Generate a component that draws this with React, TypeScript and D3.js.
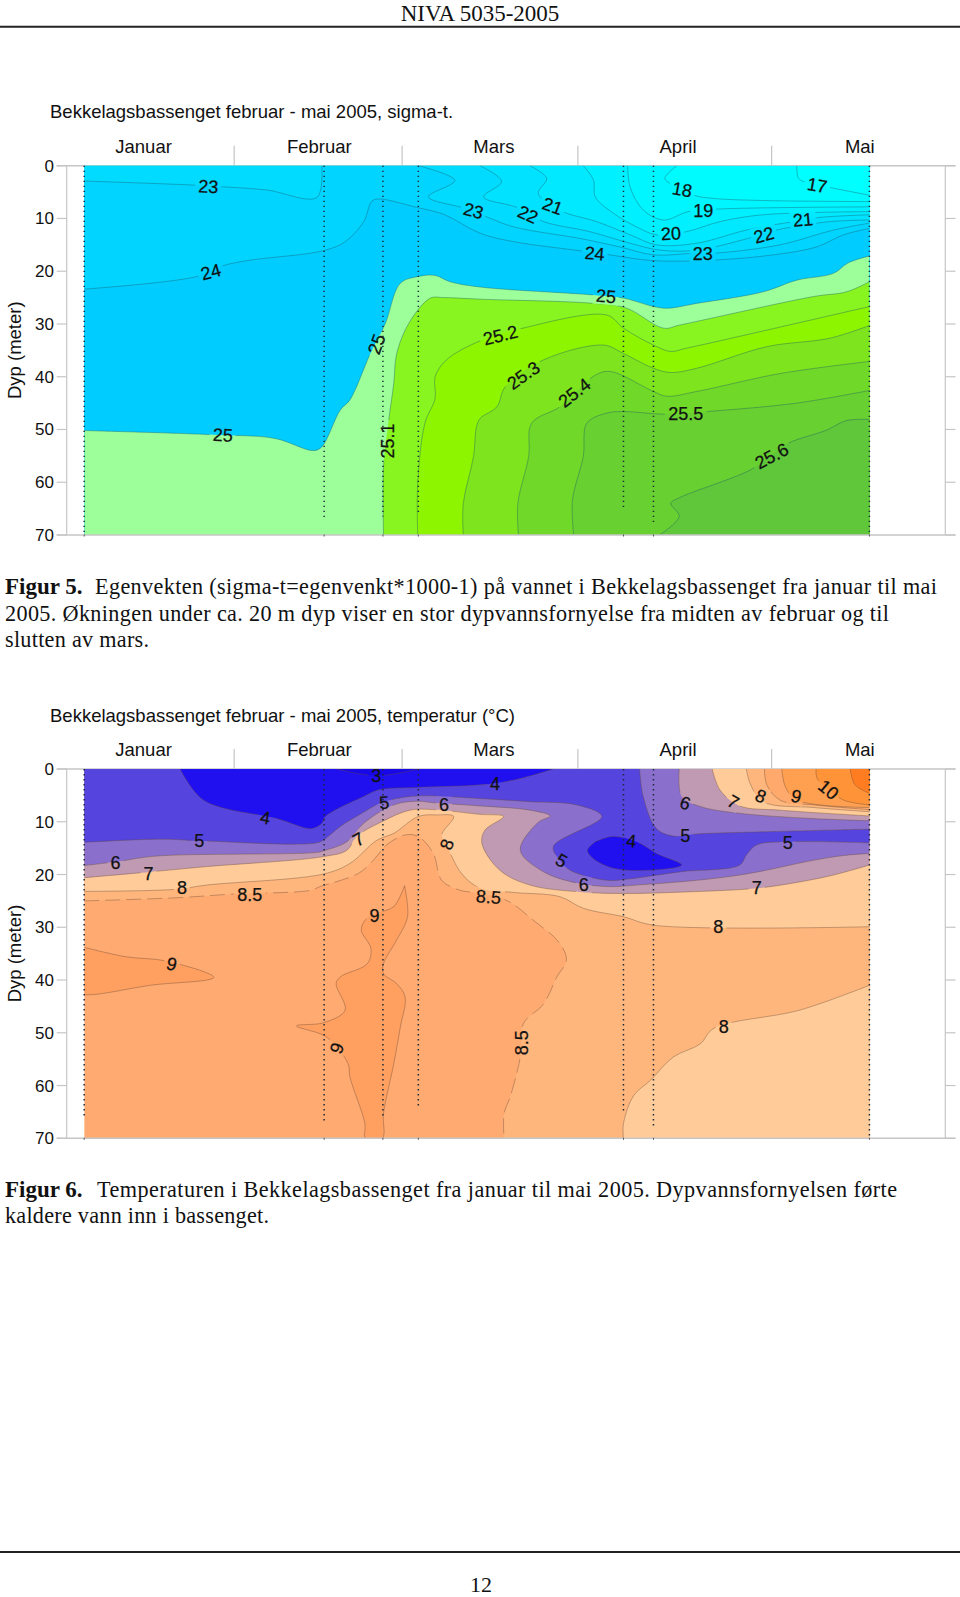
import React from "react";
import * as d3 from "d3";

type Pt = number[];
type Layer = { color: string; pieces: Pt[][]; closure: Pt[]; dashed?: boolean };

// x = days from first station, y = depth in metres
const months = ["Januar", "Februar", "Mars", "April", "Mai"];
const monthLabelDays = [9.9, 39.2, 68.3, 99, 129.3];
const monthTickDays = [25, 53, 82.3, 114.6];
const depthTicks = [0, 10, 20, 30, 40, 50, 60, 70];
const stationDays = [0, 40, 49.8, 55.7, 89.9, 94.9, 130.9];
const stationBottomSigma = [70, 67.2, 66.5, 65.9, 65.3, 68.1, 70];
const stationBottomTemp = [66, 67.1, 66, 64.1, 65.3, 68.2, 70];

const sig17 = [[118.8,0],[119.1,2.4],[120.7,3.3],[124.6,4.2],[130.9,5.6]];
const sig18 = [[98.8,0],[96.8,2.4],[98.2,3.7],[101.6,5.6],[104.9,6.2],[113.2,6.6],[130.9,6.8]];
const sig19 = [[90.6,0],[91,4],[93.2,8.4],[96.6,10.3],[100.7,8.7],[106,8.2],[130.9,7.8]];
const sig20 = [[83.2,0],[84.9,2.7],[85.2,5.9],[88.2,9],[92.1,11.6],[95.4,13.1],[100.4,12.5],[106,10.6],[113.2,9.3],[130.9,8.7]];
const sig21 = [[74.3,0],[77.1,2.4],[75.7,5.2],[77.9,7.6],[80.4,9],[85.4,10.6],[91,13.1],[95.4,15],[102.1,14.7],[110.4,12.2],[118.2,10.6],[122.7,9.8],[130.9,9.3]];
const sig22 = [[66,0],[69.6,3],[66.6,5.9],[72.1,7.9],[76.6,10.6],[84.3,12.5],[91,14.7],[96,16],[102.1,16],[111.6,13.5],[115.4,12.2],[124.3,10.6],[130.9,10.3]];
const sig23a = [[0,2.9],[18.8,3.7],[23.2,4],[30.4,4.6],[38.8,6],[39.6,0]];
const sig23b = [[55.7,0],[61.8,2.8],[57.4,5.9],[63.5,8.1],[67.1,9.7],[71.6,11.6],[82.7,13.8],[89.3,15.4],[94.9,16.9],[101.6,16.6],[104.9,16.6],[116,15],[124.9,12.2],[130.9,10.9]];
const sig24 = [[0,23.4],[18.8,21],[22.7,19.1],[27.1,18],[39.9,16.1],[43.5,14.4],[46.6,10.6],[47.9,6.8],[49,6.3],[55.4,7.9],[59.9,9.2],[66,12.8],[71.6,14.4],[83.2,16.2],[87.6,16.9],[94.9,18],[104.9,17.9],[114.9,16.9],[122.1,15.4],[126.6,13.1],[130.9,11.9]];
const sig25 = [[0,50.2],[21.6,51],[31.8,51.7],[38.2,54],[39.6,53.3],[42.7,46.3],[44.3,44.4],[47.7,35.6],[50.2,29.9],[52.7,22.3],[55.7,21],[58.5,20.8],[61,22],[66,23],[84.9,24.5],[89.9,25.1],[96.6,27],[102.1,26.1],[113.2,23.9],[118.8,21.7],[124.9,20.4],[127.4,18.4],[130.9,17.1]];
const sig251 = [[49.9,70],[49.9,57],[50.7,48.8],[51.6,41.3],[52.1,35.6],[54.1,29.9],[57.7,25.1],[59.9,25],[66,25.3],[84.9,26.1],[90.4,27],[96.6,30.8],[99.3,30.2],[121.6,24.8],[127.1,23.9],[130.9,22]];
const sig252 = [[55.6,70],[55.6,60.2],[56.8,48.8],[58.5,44.1],[58.5,40],[60.4,36.8],[66,33.2],[72.4,31],[87.1,28.3],[89.9,30.8],[94.9,34],[97.7,35.2],[100.4,34.6],[130.9,26.7]];
const sig253 = [[63.2,70],[63.2,64],[64.9,55.1],[65.4,49.5],[66,47.9],[68.8,45.7],[70.2,41.9],[76.6,36.8],[86.6,34],[89.9,35.6],[94.9,38.4],[97.7,39.2],[102.1,38.4],[113.8,34.3],[124.3,32.7],[130.9,30.3]];
const sig254 = [[72.4,70],[72.3,64],[74.1,55.1],[74.6,48.8],[79.3,45.7],[85.2,39.7],[87.7,39],[94.9,42.8],[97.1,43.7],[102.1,42.8],[116,39.4],[130.9,37.1]];
const sig255 = [[81.6,70],[81.4,63.4],[83.2,55.1],[83.8,48.8],[87.1,46.9],[89.9,46.6],[96.8,47.1],[103.8,46.6],[118.8,45],[130.9,42.6]];
const sig256 = [[95.9,70],[99.2,66.5],[97.8,64],[99.3,62.9],[111,57.7],[114.3,55.1],[117.4,52.6],[123.8,50.1],[127.1,48.3],[130.9,48.1]];

const tWedge9 = [[0,33.8],[7,35.6],[13.7,36.4],[21.6,39.5],[11,41],[2.1,42.7],[0,42.8]];
const tPlume9 = [[53.4,22.1],[53.9,28],[52.1,32.4],[49.9,36.9],[49.9,38.8],[52.1,40.7],[53.5,43.2],[52.7,48.9],[51.6,55.9],[49.9,65.3],[49.7,70],[46.9,70],[46.8,67.2],[44.3,58.4],[44,55.9],[40.4,50.8],[35.4,48.7],[39.9,48.1],[43.5,45.7],[42,40.7],[42.7,39.4],[47.2,36.9],[47.8,34],[46.2,30.6],[46.8,28.7],[48.6,27.4],[51.6,26.1],[53.4,22.1]];
const t85 = [[0,25],[15.4,24.4],[24.9,23.7],[37.7,23],[39.3,22.3],[45.7,19.8],[48.2,17.3],[50.4,14.4],[53.5,12.5],[55.7,12.8],[58.2,16],[59.6,21.1],[62.7,23],[64.9,23.4],[70.4,24.9],[74.9,28.7],[79.1,32.8],[80.4,36.2],[78.8,39.4],[76.6,44.5],[73.2,48.3],[72.7,54.6],[71,62.2],[70,65.3],[70,70]];
const t8main = [[0,23.2],[15.4,22.8],[20.4,22],[39.9,19.9],[44.3,17.9],[48.8,13.5],[51.6,12.2],[55.7,9],[58.8,8.7],[61.6,9],[59.6,12.5],[60.4,14.4],[62.9,19.8],[66,22.6],[71.6,23.4],[79.3,24.2],[83.2,26.4],[89.9,28],[94.9,29.6],[130.9,29.9]];
const t8bottom = [[89.9,70],[89.9,67.2],[91.6,61.9],[94.4,59],[98.2,54.6],[102.7,52.1],[104.9,49.2],[119.3,45.7],[130.9,41]];
const t7lower = [[0,20.6],[11,19.5],[20.4,18.5],[39.9,16.6],[43.8,15.4],[45.4,12.8],[49.6,10],[54.3,7.8],[58.2,7.7],[66,8.6],[69.9,9],[66.8,11.6],[66.3,14.1],[69.3,19.2],[74.3,22],[82.7,23.3],[89.9,23.6],[100.4,23.3],[112.1,22.6],[119.3,21.4],[124.9,20.1],[130.9,18.2]];
const t7upper = [[130.9,8.9],[116,7.8],[109.3,7],[106,4],[104.7,0]];
const t6lower = [[0,18.3],[5.2,17.6],[12.1,16.5],[38.8,15.8],[40.2,15.4],[43.8,13.8],[46.6,10.3],[51.6,6.8],[55.7,6.1],[58.2,6.4],[66,7],[74.3,7.8],[77.7,8.9],[75.7,10.1],[72.7,15.4],[76.6,19.5],[82.1,21.6],[87.7,22.3],[92.1,22],[102.1,21.1],[110.4,19.9],[121.6,17.3],[126.6,16.4],[130.9,16]];
const t6upper = [[130.9,9.8],[121.6,9.4],[109.3,8.4],[102.7,7.1],[99.6,5.2],[99.2,0]];
const t5lower = [[0,13.9],[12.7,13.3],[19.3,13.6],[38.8,14],[40.2,13.2],[42.7,10.9],[46.3,8.4],[49.3,6.5],[52.1,5.6],[55.7,5.1],[66,5.6],[74.3,6.2],[82.1,6.8],[86.3,9],[78.2,14.7],[79.3,17.3],[81,19.2],[87.1,21.1],[90.4,20.9],[99.3,19.5],[109.3,18.2],[110.4,16.3],[112.1,14.4],[116.9,13.8],[130.9,14]];
const t5upper = [[130.9,11.4],[113.2,11.9],[102.1,12.3],[98.2,12.7],[95.4,11.3],[93.2,5.2],[92.6,0]];
const t4top = [[16,0],[19.9,5.9],[32.1,9.4],[37.9,11.3],[39.6,10.3],[40.2,9],[46.6,5.2],[49.3,3.9],[55.4,3.5],[66,3],[71.6,2.1],[78.2,0]];
const t4lens = [[85.2,13.8],[88,12.8],[92.1,13.8],[95.4,16],[99.6,18.2],[93.8,19.2],[88.2,18.8],[84.9,17],[83.9,15.4],[85.2,13.8]];
const t3lens = [[42.1,0],[48.8,1.3],[55.7,0]];
const t8upper = [[110.4,0],[111,2.7],[113.2,6.2],[121.6,7.3],[130.9,8.1]];
const t85upper = [[113.4,0],[113.8,3],[116,5.9],[121.6,6.8],[130.9,7.7]];
const t9upper = [[116.3,0],[116.9,3.4],[118.8,5.9],[130.9,7.3]];
const t10upper = [[122,0],[122.2,1.8],[124.3,4],[126.6,5.9],[130.9,6.8]];
const t11upper = [[127.7,0],[128.5,3],[130.9,4.6]];

const sigmaLabels: [string, number, number, number][] = [
  ["23",20.7,3.9,3],["24",21.1,20.1,-15],["25",23.1,51,3],["25",48.7,33.8,-70],["25.1",50.6,52.2,-90],
  ["23",64.9,8.5,15],["22",74,9.2,25],["21",78.1,7.6,20],["24",85.1,16.6,5],["25",87,24.7,5],
  ["18",99.7,4.5,10],["19",103.2,8.5,0],["20",97.8,12.8,-3],["23",103.1,16.7,0],["22",113.3,13.1,-15],
  ["21",119.8,10.2,-5],["17",122.2,3.7,10],["25.2",69.4,32.1,-14],["25.3",73.2,39.7,-35],["25.4",81.7,43,-38],
  ["25.5",100.3,46.9,0],["25.6",114.6,55,-28],
];
const tempLabels: [string, number, number, number][] = [
  ["3",48.7,1.3,0],["4",30.2,9.2,10],["5",19.2,13.6,0],["6",5.2,17.8,0],["7",10.7,19.8,0],["8",16.3,22.5,0],
  ["8.5",27.6,23.7,0],["9",14.6,36.9,15],["5",50,6.3,-5],["6",60,6.7,0],["7",45.7,13.3,-30],["8",60.4,14.3,-70],
  ["9",48.4,27.7,0],["9",42.1,52.9,-70],["8.5",67.4,24.2,5],["4",68.5,2.8,0],["5",79.6,17.3,30],["6",83.3,21.9,0],
  ["4",91.2,13.6,5],["5",100.2,12.7,0],["6",100.2,6.4,18],["7",108.2,6.2,30],["8",112.8,5.1,22],["9",118.7,5.1,15],
  ["10",124.1,3.9,40],["5",117.3,13.9,0],["7",112.1,22.5,0],["8",105.7,29.9,0],["8",106.6,48.8,0],["8.5",72.9,51.9,-90],
];

const X0 = 0, X1 = 131, Y1 = 70;
const belowAll = [[X1,Y1],[X0,Y1],[X0,0]];
const belowEdge = [[X1,Y1],[X0,Y1]];
const bottomRight = [[X1,Y1]];
const aboveRight = [[X1,Y1],[X1,0],[X0,0]];
const aboveAll = [[X1,0],[X0,0]];
const topLeft = [[X0,0]];
const topRight = [[X1,0]];
const none: Pt[] = [];

const sigmaLayers: Layer[] = [
  { color: "#00FBFF", pieces: [sig17], closure: belowAll },
  { color: "#00F6FF", pieces: [sig18], closure: belowAll },
  { color: "#00F0FF", pieces: [sig19], closure: belowAll },
  { color: "#00E9FF", pieces: [sig20], closure: belowAll },
  { color: "#00E2FF", pieces: [sig21], closure: belowAll },
  { color: "#00DBFF", pieces: [sig22], closure: belowAll },
  { color: "#00D4FF", pieces: [sig23a, sig23b], closure: belowEdge },
  { color: "#00CCFF", pieces: [sig24], closure: belowEdge },
  { color: "#9CFF99", pieces: [sig25], closure: belowEdge },
  { color: "#88F520", pieces: [sig251], closure: bottomRight },
  { color: "#8DF500", pieces: [sig252], closure: bottomRight },
  { color: "#7DE41E", pieces: [sig253], closure: bottomRight },
  { color: "#70D828", pieces: [sig254], closure: bottomRight },
  { color: "#68D030", pieces: [sig255], closure: bottomRight },
  { color: "#60C63A", pieces: [sig256], closure: bottomRight },
];
const tempLayers: Layer[] = [
  { color: "#FFA060", pieces: [tWedge9], closure: none },
  { color: "#FFA060", pieces: [tPlume9], closure: none },
  { color: "#FFB67C", pieces: [t85], closure: aboveRight, dashed: true },
  { color: "#FFCC99", pieces: [t8main], closure: aboveAll },
  { color: "#FFCC99", pieces: [t8bottom], closure: bottomRight },
  { color: "#C09AB2", pieces: [t7lower, t7upper], closure: topLeft },
  { color: "#8A70CC", pieces: [t6lower, t6upper], closure: topLeft },
  { color: "#5544DD", pieces: [t5lower, t5upper], closure: topLeft },
  { color: "#2010F0", pieces: [t4top], closure: none },
  { color: "#2010F0", pieces: [t4lens], closure: none },
  { color: "#1808E8", pieces: [t3lens], closure: none },
  { color: "#FFB67C", pieces: [t8upper], closure: topRight },
  { color: "#FFAA6C", pieces: [t85upper], closure: topRight },
  { color: "#FFA050", pieces: [t9upper], closure: topRight },
  { color: "#FF9338", pieces: [t10upper], closure: topRight },
  { color: "#FF7D20", pieces: [t11upper], closure: topRight },
];

const SANS = "'Liberation Sans', Arial, sans-serif";
const SERIF = "'Liberation Serif', 'Times New Roman', serif";
const xScale = d3.scaleLinear().domain([X0, X1]).range([84.2, 870]);

function Panel({ id, top, base, title, layers, labels, bottoms, stroke, titleY }: any) {
  const yScale = d3.scaleLinear().domain([0, Y1]).range([top, top + 369.3]);
  const curve = d3.line<Pt>().x(d => xScale(d[0])).y(d => yScale(d[1])).curve(d3.curveCatmullRom.alpha(0.5));
  const straight = d3.line<Pt>().x(d => xScale(d[0])).y(d => yScale(d[1]));
  const axisX0 = 56.7, axisX = 66.7, rightX = 945.3, rightEnd = 955.5;
  const grey = "#c6c6c6";
  const plotW = xScale(X1) - xScale(X0);
  const fillPath = (l: Layer) => {
    let p = l.pieces.map((s, i) => { const c = curve(s)!; return i ? "L" + c.slice(1) : c; }).join("");
    if (l.closure.length) p += "L" + straight(l.closure)!.slice(1);
    return p + "Z";
  };
  return (
    <g>
      <defs>
        <clipPath id={id + "c"}>
          <rect x={xScale(X0)} y={yScale(0)} width={plotW} height={yScale(Y1) - yScale(0)} />
        </clipPath>
        <mask id={id + "m"} maskUnits="userSpaceOnUse" x="0" y="0" width="960" height="1597">
          <rect x="0" y="0" width="960" height="1597" fill="#fff" />
          {labels.map((l: any, i: number) => {
            const w = l[0].length * 10 - (l[0].includes(".") ? 4 : 0) + 6;
            return <rect key={i} x={-w / 2} y={-9} width={w} height={18} fill="#000"
              transform={`translate(${xScale(l[1])},${yScale(l[2])}) rotate(${l[3]})`} />;
          })}
        </mask>
      </defs>
      <text x={50} y={titleY} fontFamily={SANS} fontSize={18.5} fill="#111">{title}</text>
      {months.map((m, i) => (
        <text key={m} x={xScale(monthLabelDays[i])} y={top - 13.2} textAnchor="middle" fontFamily={SANS} fontSize={18.5} fill="#111">{m}</text>
      ))}
      {monthTickDays.map((d, i) => (
        <line key={i} x1={xScale(d)} x2={xScale(d)} y1={top - 20} y2={top} stroke={grey} strokeWidth={1.2} />
      ))}
      <line x1={axisX} x2={axisX} y1={yScale(0)} y2={yScale(Y1)} stroke={grey} strokeWidth={1.2} />
      <line x1={rightX} x2={rightX} y1={yScale(0)} y2={yScale(Y1)} stroke={grey} strokeWidth={1.2} />
      <line x1={axisX0} x2={rightEnd} y1={yScale(0)} y2={yScale(0)} stroke={grey} strokeWidth={1.4} />
      {depthTicks.map(t => (
        <g key={t}>
          <line x1={axisX0} x2={axisX} y1={yScale(t)} y2={yScale(t)} stroke={grey} strokeWidth={1.2} />
          <line x1={rightX} x2={rightEnd} y1={yScale(t)} y2={yScale(t)} stroke={grey} strokeWidth={1.2} />
          <text x={54} y={yScale(t) + 6} textAnchor="end" fontFamily={SANS} fontSize={17} fill="#111">{t}</text>
        </g>
      ))}
      <text transform={`translate(21,${top + 184.5}) rotate(-90)`} textAnchor="middle" fontFamily={SANS} fontSize={18.5} fill="#111">Dyp (meter)</text>
      <g clipPath={`url(#${id}c)`}>
        <rect x={xScale(X0)} y={yScale(0)} width={plotW} height={yScale(Y1) - yScale(0)} fill={base} />
        {layers.map((l: Layer, i: number) => <path key={i} d={fillPath(l)} fill={l.color} />)}
        <g mask={`url(#${id}m)`}>
          {layers.flatMap((l: Layer, i: number) => l.pieces.map((s, j) => (
            <path key={i + "-" + j} d={curve(s)!} fill="none" stroke={stroke} strokeWidth={0.5} strokeOpacity={0.8}
              strokeDasharray={l.dashed ? "15 6" : undefined} />
          )))}
        </g>
      </g>
      <line x1={axisX0} x2={rightEnd} y1={yScale(Y1)} y2={yScale(Y1)} stroke={grey} strokeWidth={1.4} />
      {stationDays.map((d, i) => (
        <g key={i}>
          <line x1={xScale(d)} x2={xScale(d)} y1={yScale(0)} y2={yScale(bottoms[i])} stroke="#1c2a3a" strokeWidth={1.5} strokeDasharray="1.4 3.6" />
          <line x1={xScale(d)} x2={xScale(d)} y1={yScale(Y1) - 0.5} y2={yScale(Y1) + 1.5} stroke="#555" strokeWidth={1} />
        </g>
      ))}
      {labels.map((l: any, i: number) => (
        <text key={i} transform={`translate(${xScale(l[1])},${yScale(l[2])}) rotate(${l[3]})`} textAnchor="middle" dy="0.36em"
          fontFamily={SANS} fontSize={18} fill="#111" stroke="#111" strokeWidth={0.25}>{l[0]}</text>
      ))}
    </g>
  );
}

export default function App() {
  const serif = { fontFamily: SERIF, fontSize: 22.2, fill: "#111" } as const;
  return (
    <svg width={960} height={1597} style={{ position: "absolute", left: 0, top: 0, display: "block" }} xmlns="http://www.w3.org/2000/svg">
      <rect width={960} height={1597} fill="#fff" />
      <text x={480} y={20.6} textAnchor="middle" fontFamily={SERIF} fontSize={23} fill="#111">NIVA 5035-2005</text>
      <line x1={0} x2={960} y1={26.7} y2={26.7} stroke="#222" strokeWidth={2} />
      <Panel id="s" top={165.7} base="#00FFFF" titleY={118.3} title="Bekkelagsbassenget februar - mai 2005, sigma-t."
        layers={sigmaLayers} labels={sigmaLabels} bottoms={stationBottomSigma} stroke="#1f5a66" />
      <text x={5} y={594.3} {...serif} fontSize={23} fontWeight="bold">Figur 5.</text>
      <text x={95} y={594.3} {...serif} textLength={842} lengthAdjust="spacing">Egenvekten (sigma-t=egenvenkt*1000-1) på vannet i Bekkelagsbassenget fra januar til mai</text>
      <text x={5} y={621} {...serif} textLength={884} lengthAdjust="spacing">2005. Økningen under ca. 20 m dyp viser en stor dypvannsfornyelse fra midten av februar og til</text>
      <text x={5} y={646.7} {...serif} textLength={144} lengthAdjust="spacing">slutten av mars.</text>
      <Panel id="t" top={769} base="#FFAA70" titleY={721.7} title="Bekkelagsbassenget februar - mai 2005, temperatur (°C)"
        layers={tempLayers} labels={tempLabels} bottoms={stationBottomTemp} stroke="#6a4a3a" />
      <text x={5} y={1196.7} {...serif} fontSize={23} fontWeight="bold">Figur 6.</text>
      <text x={97} y={1196.7} {...serif} textLength={800} lengthAdjust="spacing">Temperaturen i Bekkelagsbassenget fra januar til mai 2005.  Dypvannsfornyelsen førte</text>
      <text x={5} y={1222.7} {...serif} textLength={264} lengthAdjust="spacing">kaldere vann inn i bassenget.</text>
      <line x1={0} x2={960} y1={1552} y2={1552} stroke="#222" strokeWidth={2} />
      <text x={481} y={1592} textAnchor="middle" fontFamily={SERIF} fontSize={22} fill="#111">12</text>
    </svg>
  );
}
